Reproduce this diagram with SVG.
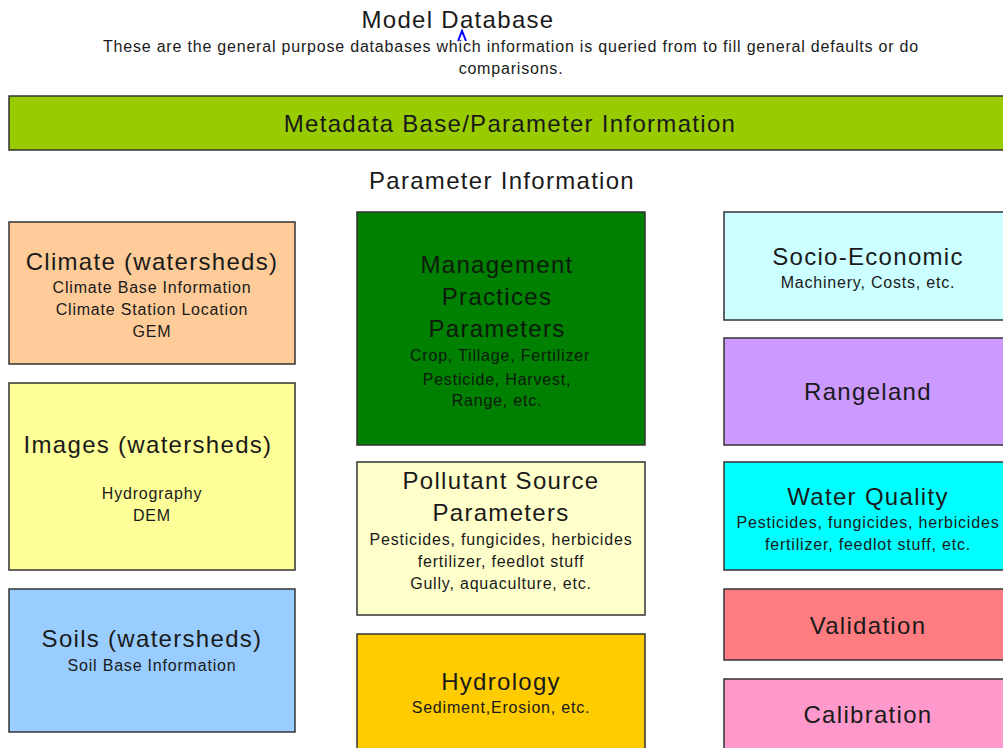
<svg xmlns="http://www.w3.org/2000/svg" width="1003" height="748" viewBox="0 0 1003 748">
<style>
text{font-family:"Liberation Sans",Arial,sans-serif;fill:#1a1a1a;text-anchor:middle}
.t{font-size:24px;letter-spacing:1.3px}
.s{font-size:16px;letter-spacing:0.8px}
.g{fill:#0d1a0d}
.box{stroke:#333;stroke-width:1.5}
</style>
<rect width="1003" height="748" fill="#fff"/>
<g id="header">
<text class="t" x="458" y="28">Model Database</text>
<text class="s" x="511" y="52">These are the general purpose databases which information is queried from to fill general defaults or do</text>
<text class="s" x="511" y="74">comparisons.</text>
<polyline points="458,41 462,31 466,41" fill="none" stroke="#0000ff" stroke-width="2"/>
</g>
<g id="metadata">
<rect class="box" x="9" y="96" width="1000" height="54" fill="#99cc00"/>
<text class="t" x="510" y="132">Metadata Base/Parameter Information</text>
</g>
<g id="param-label"><text class="t" x="502" y="189">Parameter Information</text></g>
<g id="climate">
<rect class="box" x="9" y="222" width="286" height="142" fill="#ffcc99"/>
<text class="t" x="152" y="270">Climate (watersheds)</text>
<text class="s" x="152" y="293">Climate Base Information</text>
<text class="s" x="152" y="315">Climate Station Location</text>
<text class="s" x="152" y="337">GEM</text>
</g>
<g id="images">
<rect class="box" x="9" y="383" width="286" height="187" fill="#ffff99"/>
<text class="t" x="148" y="453">Images (watersheds)</text>
<text class="s" x="152" y="499">Hydrography</text>
<text class="s" x="152" y="521">DEM</text>
</g>
<g id="soils">
<rect class="box" x="9" y="589" width="286" height="143" fill="#99ccff"/>
<text class="t" x="152" y="647">Soils (watersheds)</text>
<text class="s" x="152" y="671">Soil Base Information</text>
</g>
<g id="management">
<rect class="box" x="357" y="212" width="288" height="233" fill="#008000"/>
<text class="t g" x="497" y="273">Management</text>
<text class="t g" x="497" y="305">Practices</text>
<text class="t g" x="497" y="337">Parameters</text>
<text class="s g" x="500" y="361">Crop, Tillage, Fertilizer</text>
<text class="s g" x="497" y="385">Pesticide, Harvest,</text>
<text class="s g" x="497" y="406">Range, etc.</text>
</g>
<g id="pollutant">
<rect class="box" x="357" y="462" width="288" height="153" fill="#ffffcc"/>
<text class="t" x="501" y="489">Pollutant Source</text>
<text class="t" x="501" y="521">Parameters</text>
<text class="s" x="501" y="545">Pesticides, fungicides, herbicides</text>
<text class="s" x="501" y="567">fertilizer, feedlot stuff</text>
<text class="s" x="501" y="589">Gully, aquaculture, etc.</text>
</g>
<g id="hydrology">
<rect class="box" x="357" y="634" width="288" height="120" fill="#ffcc00"/>
<text class="t" x="501" y="690">Hydrology</text>
<text class="s" x="501" y="713">Sediment,Erosion, etc.</text>
</g>
<g id="socio">
<rect class="box" x="724" y="212" width="290" height="108" fill="#ccffff"/>
<text class="t" x="868" y="265">Socio-Economic</text>
<text class="s" x="868" y="288">Machinery, Costs, etc.</text>
</g>
<g id="rangeland">
<rect class="box" x="724" y="338" width="290" height="107" fill="#cc99ff"/>
<text class="t" x="868" y="400">Rangeland</text>
</g>
<g id="waterquality">
<rect class="box" x="724" y="462" width="290" height="108" fill="#00ffff"/>
<text class="t" x="868" y="505">Water Quality</text>
<text class="s" x="868" y="528">Pesticides, fungicides, herbicides</text>
<text class="s" x="868" y="550">fertilizer, feedlot stuff, etc.</text>
</g>
<g id="validation">
<rect class="box" x="724" y="589" width="290" height="71" fill="#ff7c80"/>
<text class="t" x="868" y="634">Validation</text>
</g>
<g id="calibration">
<rect class="box" x="724" y="679" width="290" height="75" fill="#ff99cc"/>
<text class="t" x="868" y="723">Calibration</text>
</g>
<g id="connectors"></g>
</svg>
